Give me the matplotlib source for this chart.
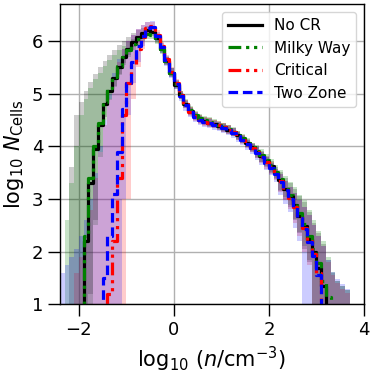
import numpy as np
import matplotlib
matplotlib.use("Agg")
import matplotlib.pyplot as plt

# bin edges in log10(n/cm^-3)
edges = np.round(np.arange(-2.4, 3.95, 0.1), 2)

labels = ["No CR", "Milky Way", "Critical", "Two Zone"]

nocr_line = [0, 0, 0, 0, 0,
             2.2, 3.3, 3.95, 4.4, 4.8, 5.05, 5.3, 5.5, 5.7, 5.85, 5.98, 6.08, 6.16, 6.2, 6.17,
             6.05, 5.85, 5.62, 5.4, 5.17, 4.97, 4.8, 4.67, 4.58, 4.52, 4.48, 4.45, 4.42, 4.39, 4.36,
             4.32, 4.27, 4.21, 4.14, 4.06, 3.98, 3.9, 3.82, 3.72, 3.62, 3.5, 3.36, 3.2, 3.05, 2.88,
             2.68, 2.48, 2.25, 2.0, 1.7, 1.35, 0, 0, 0, 0, 0, 0, 0]
nocr_hi = [0, 0, 3.6, 4.6, 4.85, 5.05, 5.22, 5.37, 5.5, 5.62, 5.73, 5.83, 5.92, 6.0, 6.08,
           6.15, 6.2, 6.25, 6.28, 6.25,
           6.13, 5.93, 5.7, 5.48, 5.25, 5.05, 4.88, 4.75, 4.66, 4.6, 4.56, 4.53, 4.5, 4.47, 4.44,
           4.4, 4.35, 4.29, 4.22, 4.14, 4.06, 4.0, 3.92, 3.82, 3.72, 3.6, 3.52, 3.4, 3.3,
           3.2, 3.05, 2.95, 2.75, 2.55, 2.35, 2.15, 1.85, 1.6, 1.45, 1.35, 1.28, 1.15, 0]
nocr_lo = [0, 0, 0, 0, 0, 0, 1.2, 2.6, 3.9, 4.55, 4.9, 5.15, 5.38, 5.58, 5.74, 5.88, 5.99,
           6.07, 6.12, 6.1,
           5.97, 5.77, 5.54, 5.32, 5.09, 4.89, 4.72, 4.59, 4.5, 4.44, 4.4, 4.37, 4.34, 4.31, 4.28,
           4.24, 4.19, 4.13, 4.06, 3.98, 3.9, 3.78, 3.7, 3.6, 3.5, 3.38, 3.16, 3.0, 2.85,
           2.6, 2.35, 2.05, 1.8, 0, 0, 0, 0, 0, 0, 0, 0, 0, 0]

mw_line = [0, 0, 0, 0, 0,
           2.3, 3.4, 4.0, 4.45, 4.85, 5.1, 5.32, 5.52, 5.7, 5.83, 5.95, 6.04, 6.1, 6.13, 6.12,
           6.02, 5.84, 5.62, 5.4, 5.18, 4.98, 4.82, 4.69, 4.6, 4.54, 4.5, 4.47, 4.44, 4.41, 4.37,
           4.33, 4.28, 4.22, 4.15, 4.07, 3.99, 3.91, 3.83, 3.74, 3.64, 3.52, 3.38, 3.23, 3.08, 2.92,
           2.73, 2.53, 2.3, 2.05, 1.78, 1.45, 1.15, 0, 0, 0, 0, 0, 0]
mw_hi = [0, 2.6, 3.3, 4.0, 4.6, 4.9, 5.1, 5.27, 5.4, 5.52, 5.63, 5.73, 5.82, 5.9, 5.98, 6.04,
         6.1, 6.15, 6.18, 6.17,
         6.1, 5.92, 5.7, 5.48, 5.26, 5.06, 4.9, 4.77, 4.68, 4.62, 4.58, 4.55, 4.52, 4.49, 4.45,
         4.41, 4.36, 4.3, 4.23, 4.15, 4.07, 4.03, 3.95, 3.86, 3.76, 3.64, 3.55, 3.43, 3.32,
         3.22, 3.08, 2.98, 2.8, 2.6, 2.4, 2.2, 1.9, 1.62, 1.45, 1.35, 1.28, 1.15, 0]
mw_lo = [0, 0, 0, 0, 0, 0, 1.0, 2.5, 3.8, 4.5, 4.88, 5.12, 5.35, 5.55, 5.7, 5.83, 5.93, 6.0,
         6.04, 6.03,
         5.94, 5.76, 5.54, 5.32, 5.1, 4.9, 4.74, 4.61, 4.52, 4.46, 4.42, 4.39, 4.36, 4.33, 4.29,
         4.25, 4.2, 4.14, 4.07, 3.99, 3.91, 3.79, 3.71, 3.62, 3.52, 3.4, 3.18, 3.03, 2.88,
         2.62, 2.38, 2.1, 1.85, 0, 0, 0, 0, 0, 0, 0, 0, 0, 0]

crit_line = [0, 0, 0, 0, 0, 0, 0, 0, 0, 0,
             1.2, 2.2, 3.4, 4.6, 5.2, 5.55, 5.85, 6.08, 6.25, 6.28,
             6.12, 5.9, 5.65, 5.42, 5.2, 4.98, 4.8, 4.66, 4.57, 4.51, 4.47, 4.45, 4.42, 4.4, 4.36,
             4.32, 4.27, 4.2, 4.13, 4.05, 3.97, 3.89, 3.8, 3.7, 3.6, 3.48, 3.34, 3.18, 3.02, 2.85,
             2.65, 2.45, 2.2, 1.95, 1.6, 0, 0, 0, 0, 0, 0, 0, 0]
crit_hi = [0, 0, 0, 1.6, 1.9, 2.3, 2.8, 3.4, 3.9, 4.4, 4.9, 5.3, 5.6, 5.85, 6.0, 6.12, 6.22,
           6.3, 6.36, 6.37,
           6.2, 5.98, 5.73, 5.5, 5.28, 5.06, 4.88, 4.74, 4.65, 4.59, 4.55, 4.53, 4.5, 4.48, 4.44,
           4.4, 4.35, 4.28, 4.21, 4.13, 4.05, 3.99, 3.9, 3.8, 3.7, 3.58, 3.48, 3.35, 3.22,
           3.12, 2.98, 2.85, 2.7, 2.5, 2.3, 2.1, 1.8, 1.55, 1.4, 1.3, 1.22, 1.12, 0]
crit_lo = [0, 0, 0, 0, 0, 0, 0, 0, 0, 0, 0, 0, 0, 0, 3.0, 4.9, 5.5, 5.85, 6.1, 6.15,
           6.04, 5.82, 5.57, 5.34, 5.12, 4.9, 4.72, 4.58, 4.49, 4.43, 4.39, 4.37, 4.34, 4.32, 4.28,
           4.24, 4.19, 4.12, 4.05, 3.97, 3.89, 3.77, 3.68, 3.58, 3.48, 3.36, 3.14, 2.98, 2.82,
           2.55, 2.3, 2.0, 1.75, 0, 0, 0, 0, 0, 0, 0, 0, 0, 0]

two_line = [0, 0, 0, 0, 0, 0, 0, 0, 0,
            1.5, 2.3, 3.1, 3.9, 4.7, 5.2, 5.6, 5.9, 6.1, 6.24, 6.26,
            6.1, 5.88, 5.63, 5.4, 5.18, 4.96, 4.78, 4.65, 4.56, 4.5, 4.46, 4.44, 4.41, 4.39, 4.35,
            4.31, 4.26, 4.19, 4.12, 4.04, 3.96, 3.88, 3.79, 3.69, 3.59, 3.47, 3.33, 3.17, 3.01, 2.84,
            2.64, 2.43, 2.18, 1.92, 1.55, 0, 0, 0, 0, 0, 0, 0, 0]
two_hi = [1.6, 1.75, 1.9, 2.05, 2.3, 2.6, 3.0, 3.5, 4.0, 4.5, 5.0, 5.4, 5.65, 5.85, 6.0, 6.12,
          6.22, 6.3, 6.37, 6.38,
          6.18, 5.96, 5.71, 5.48, 5.26, 5.04, 4.86, 4.73, 4.64, 4.58, 4.54, 4.52, 4.49, 4.47, 4.43,
          4.39, 4.34, 4.27, 4.2, 4.12, 4.04, 3.98, 3.89, 3.79, 3.69, 3.57, 3.48, 3.35, 3.22,
          3.12, 2.98, 2.85, 2.7, 2.5, 2.3, 2.1, 1.85, 1.62, 1.48, 1.38, 1.3, 1.15, 0]
two_lo = [0, 0, 0, 0, 0, 0, 0, 0, 0, 0, 0, 0, 0, 3.0, 4.6, 5.2, 5.6, 5.9, 6.1, 6.15,
          6.0, 5.78, 5.53, 5.3, 5.08, 4.86, 4.68, 4.55, 4.46, 4.4, 4.36, 4.34, 4.31, 4.29, 4.25,
          4.21, 4.16, 4.09, 4.02, 3.94, 3.86, 3.74, 3.65, 3.55, 3.45, 3.33, 3.08, 2.9, 2.75,
          2.45, 2.2, 0, 0, 0, 0, 0, 0, 0, 0, 0, 0, 0, 0]

lines = [nocr_line, mw_line, crit_line, two_line]
his = [nocr_hi, mw_hi, crit_hi, two_hi]
los = [nocr_lo, mw_lo, crit_lo, two_lo]
line_colors = ["black", "green", "red", "blue"]
band_colors = ["black", "green", "red", "blue"]
band_alphas = [0.2, 0.22, 0.2, 0.2]
styles = ["-", (0, (4, 1.5, 1, 1.5, 1, 1.5)), (0, (4, 1.5, 1, 1.5, 1, 1.5)), (0, (3, 1.5))]

fig = plt.figure(figsize=(3.74, 3.74), dpi=100)
ax = fig.add_axes([0.16, 0.186, 0.813, 0.803])

for lo, hi, c, a in zip(los, his, band_colors, band_alphas):
    lo_e = np.append(lo, lo[-1])
    hi_e = np.append(hi, hi[-1])
    ax.fill_between(edges, lo_e, hi_e, where=hi_e > lo_e, step="post",
                    color=c, alpha=a, linewidth=0, interpolate=False)

for vals, c, ls, lab in zip(lines, line_colors, styles, labels):
    v = np.append(vals, vals[-1])
    ax.step(edges, v, where="post", color=c, linestyle=ls, linewidth=2.3, label=lab)

ax.set_xlim(-2.4, 4.0)
ax.set_ylim(1, 6.7)
ax.set_xticks([-2, 0, 2, 4])
ax.set_yticks([1, 2, 3, 4, 5, 6])
ax.grid(True, color="#b0b0b0", linewidth=1)
ax.set_axisbelow(True)
ax.tick_params(labelsize=13, length=8.5, width=1.0)
for s in ax.spines.values():
    s.set_linewidth(1.0)
ax.set_xlabel(r"$\log_{10}\,(n/\mathrm{cm}^{-3})$", fontsize=15)
ax.set_ylabel(r"$\log_{10}\,N_{\mathrm{Cells}}$", fontsize=15)
ax.legend(loc="upper right", fontsize=11, handlelength=2.2)

fig.savefig("out.png", dpi=100)
